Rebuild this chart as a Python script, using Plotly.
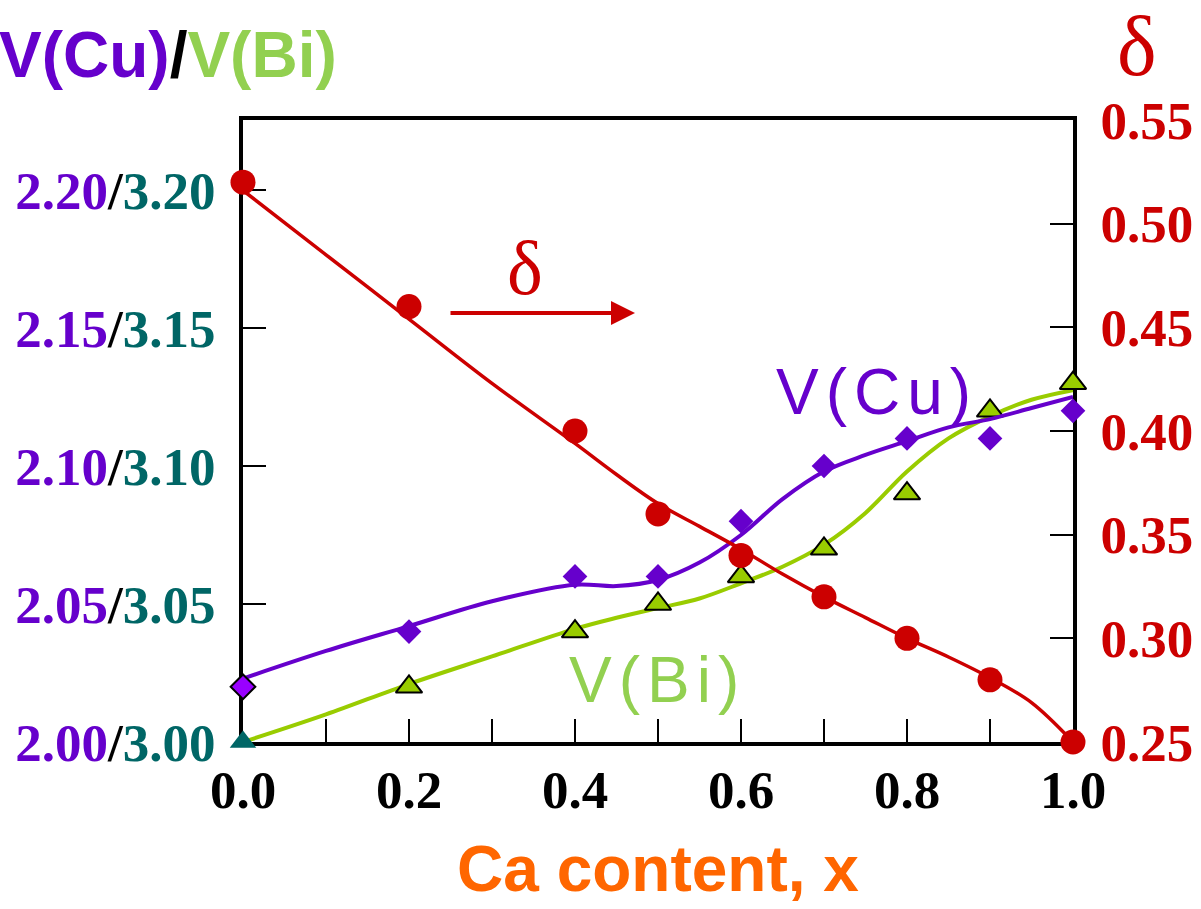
import plotly.graph_objects as go

# measured data points
x_pts = [0.0, 0.2, 0.4, 0.5, 0.6, 0.7, 0.8, 0.9, 1.0]
v_cu = [2.02, 2.04, 2.06, 2.06, 2.08, 2.10, 2.11, 2.11, 2.12]
v_bi = [3.00, 3.02, 3.04, 3.05, 3.06, 3.07, 3.09, 3.12, 3.13]
delta = [0.52, 0.46, 0.40, 0.36, 0.34, 0.32, 0.30, 0.28, 0.25]

# fitted curves
x_fit = [0.0, 0.1, 0.2, 0.3, 0.4, 0.45, 0.5, 0.55, 0.6, 0.65, 0.7, 0.75, 0.8, 0.85, 0.9, 0.95, 1.0]
v_cu_fit = [2.023, 2.033, 2.042, 2.051, 2.057, 2.0565, 2.0587, 2.065, 2.075, 2.088, 2.098, 2.104, 2.109, 2.114, 2.117, 2.121, 2.125]
v_bi_fit = [3.000, 3.010, 3.021, 3.031, 3.041, 3.045, 3.0485, 3.052, 3.0575, 3.0635, 3.0715, 3.083, 3.098, 3.110, 3.118, 3.124, 3.1275]
delta_fit = [0.516, 0.485, 0.454, 0.423, 0.394, 0.379, 0.365, 0.354, 0.343, 0.331, 0.320, 0.310, 0.300, 0.291, 0.281, 0.269, 0.250]

# left axis tick labels: V(Cu) / V(Bi)
left_cu_ticks = ["2.00", "2.05", "2.10", "2.15", "2.20"]
left_bi_ticks = ["3.00", "3.05", "3.10", "3.15", "3.20"]
left_tickvals = [3.00, 3.05, 3.10, 3.15, 3.20]

PURPLE = "#6600cc"
GREEN_LINE = "#99cc00"
GREEN_TEXT = "#92d050"
RED = "#cc0000"
TEAL = "#006666"
ORANGE = "#ff6600"

# plot-area geometry (pixels)
L, R, T, B = 243, 1073, 120, 742
PW, PH = R - L, B - T


def px(xp):
    return (xp - L) / PW


def py(yp):
    return (B - yp) / PH


fig = go.Figure()

# fitted curves
fig.add_trace(go.Scatter(x=x_fit, y=v_bi_fit, mode="lines", yaxis="y",
                         line=dict(color=GREEN_LINE, width=4, shape="spline", smoothing=1),
                         hoverinfo="skip", cliponaxis=False))
fig.add_trace(go.Scatter(x=x_fit, y=v_cu_fit, mode="lines", yaxis="y2",
                         line=dict(color=PURPLE, width=4, shape="spline", smoothing=1),
                         hoverinfo="skip", cliponaxis=False))
fig.add_trace(go.Scatter(x=x_fit, y=delta_fit, mode="lines", yaxis="y3",
                         line=dict(color=RED, width=3.5, shape="spline", smoothing=1),
                         hoverinfo="skip", cliponaxis=False))

# markers
fig.add_trace(go.Scatter(
    x=x_pts, y=v_bi, mode="markers", yaxis="y", name="V(Bi)", cliponaxis=False,
    marker=dict(symbol="triangle-up", size=23,
                color=[TEAL] + [GREEN_LINE] * (len(x_pts) - 1),
                line=dict(color="black", width=[0] + [2] * (len(x_pts) - 1)))))
fig.add_trace(go.Scatter(
    x=x_pts, y=v_cu, mode="markers", yaxis="y2", name="V(Cu)", cliponaxis=False,
    marker=dict(symbol="diamond", size=19,
                color=["#9900ff"] + [PURPLE] * (len(x_pts) - 1),
                line=dict(color="black", width=[2] + [0] * (len(x_pts) - 1)))))
fig.add_trace(go.Scatter(
    x=x_pts, y=delta, mode="markers", yaxis="y3", name="δ", cliponaxis=False,
    marker=dict(symbol="circle", size=25, color=RED)))

tickfont = dict(family="Liberation Serif", size=53, color="black", weight="bold")
left_ticktext = [f'<span style="color:{PURPLE}">{c}</span>/<span style="color:{TEAL}">{b}</span>'
                 for c, b in zip(left_cu_ticks, left_bi_ticks)]

y_top_bi = 3.0 + PH / 2760.0
y_top_cu = 2.0 + PH / 2760.0

fig.update_layout(
    width=1201, height=909,
    margin=dict(l=L, r=1201 - R, t=T, b=909 - B, pad=0, autoexpand=False),
    paper_bgcolor="white", plot_bgcolor="white",
    showlegend=False,
    xaxis=dict(range=[0, 1], dtick=0.2, tick0=0, tickformat=".1f",
               ticks="inside", ticklen=23, tickwidth=1.5, tickcolor="black",
               minor=dict(dtick=0.1, ticks="inside", ticklen=23, tickwidth=1.5, tickcolor="black", showgrid=False),
               showline=True, linewidth=4, linecolor="black", mirror=True,
               showgrid=False, zeroline=False, layer="below traces",
               tickfont=tickfont, ticklabelstandoff=-2, automargin=False,
               title=dict(text="<b>Ca content, x</b>", standoff=30,
                          font=dict(family="Liberation Sans", size=64, color=ORANGE))),
    yaxis=dict(range=[3.0, y_top_bi], tickvals=left_tickvals, ticktext=left_ticktext,
               ticks="inside", ticklen=23, tickwidth=1.5, tickcolor="black",
               showline=True, linewidth=4, linecolor="black",
               showgrid=False, zeroline=False, layer="below traces",
               tickfont=tickfont, ticklabelstandoff=13, automargin=False),
    yaxis2=dict(range=[2.0, y_top_cu], overlaying="y", visible=False),
    yaxis3=dict(range=[0.25, 0.55], overlaying="y", side="right", dtick=0.05, tick0=0.25,
                tickformat=".2f", ticks="inside", ticklen=23, tickwidth=1.5, tickcolor="black",
                showline=True, linewidth=4, linecolor="black",
                showgrid=False, zeroline=False, layer="below traces",
                tickfont=dict(family="Liberation Serif", size=53, color=RED, weight="bold"),
                ticklabelstandoff=13, automargin=False),
)

annotations = [
    dict(text=f'<b><span style="color:{PURPLE}">V(Cu)</span>/<span style="color:{GREEN_TEXT}">V(Bi)</span></b>',
         x=px(-3), y=py(55), xanchor="left", yanchor="middle",
         font=dict(family="Liberation Sans", size=64, color="black")),
    dict(text="δ", x=px(1137), y=py(46), xanchor="center", yanchor="middle",
         font=dict(family="Liberation Serif", size=84, color=RED)),
    dict(text="δ", x=px(525), y=py(268), xanchor="center", yanchor="middle",
         font=dict(family="Liberation Serif", size=76, color=RED)),
    dict(text="", x=px(635), y=py(313), ax=449 - 635, ay=0,
         axref="pixel", ayref="pixel", showarrow=True,
         arrowhead=2, arrowsize=1.2, arrowwidth=4, arrowcolor=RED),
    dict(text='<span style="letter-spacing:7px">V(Cu)</span>', x=px(877), y=py(392),
         xanchor="center", yanchor="middle",
         font=dict(family="Liberation Sans", size=64, color=PURPLE)),
    dict(text='<span style="letter-spacing:7px">V(Bi)</span>', x=px(657), y=py(680),
         xanchor="center", yanchor="middle",
         font=dict(family="Liberation Sans", size=64, color=GREEN_TEXT)),
]
for a in annotations:
    a.setdefault("xref", "paper")
    a.setdefault("yref", "paper")
    a.setdefault("showarrow", False)
fig.update_layout(annotations=annotations)

fig.write_html("out.html", config={"displayModeBar": False},
               post_script="document.body.style.margin='0px';")
